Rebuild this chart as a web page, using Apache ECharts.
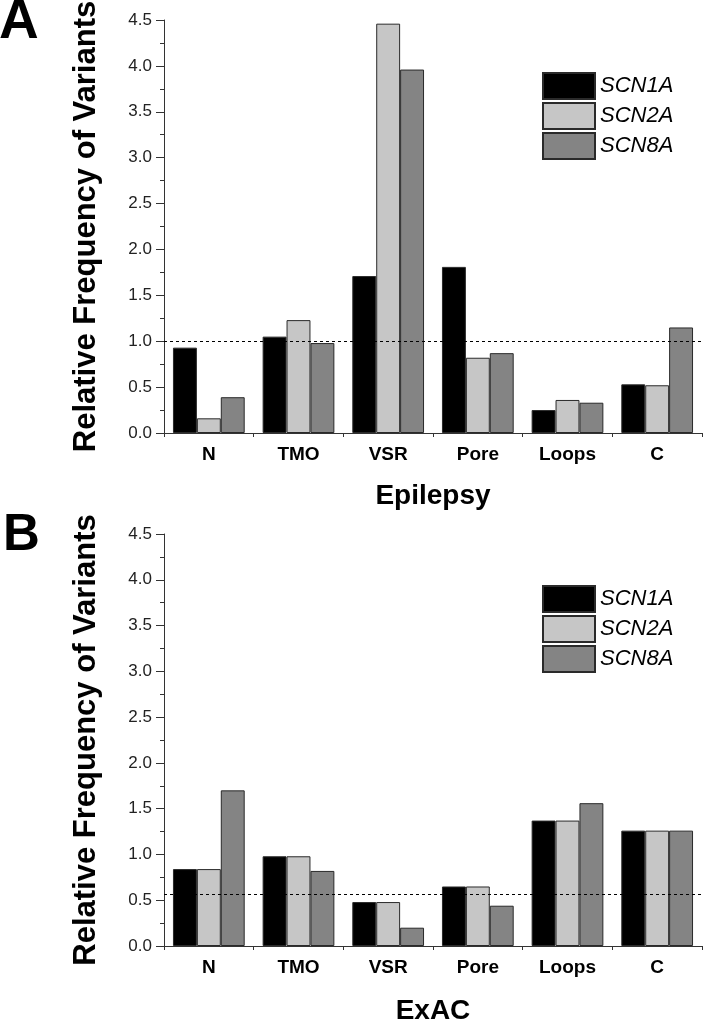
<!DOCTYPE html>
<html>
<head>
<meta charset="utf-8">
<script src="https://cdn.jsdelivr.net/npm/echarts@6/dist/echarts.min.js"></script>
<style>html,body{margin:0;padding:0;background:#fff}#c{width:704px;height:1020px}</style>
</head>
<body>
<div id="c"></div>
<script>
const categories = ['N', 'TMO', 'VSR', 'Pore', 'Loops', 'C'];
const seriesNames = ['SCN1A', 'SCN2A', 'SCN8A'];
const epilepsySCN1A = [0.93, 1.05, 1.71, 1.81, 0.25, 0.53];
const epilepsySCN2A = [0.16, 1.23, 4.46, 0.82, 0.36, 0.52];
const epilepsySCN8A = [0.39, 0.98, 3.96, 0.87, 0.33, 1.15];
const exacSCN1A = [0.84, 0.98, 0.48, 0.65, 1.37, 1.26];
const exacSCN2A = [0.84, 0.98, 0.48, 0.65, 1.37, 1.26];
const exacSCN8A = [1.70, 0.82, 0.20, 0.44, 1.56, 1.26];
const epilepsyReference = 1.0;
const exacReference = 0.56;
const yMin = 0, yMax = 4.5, yInterval = 0.5;
const panelTitles = ['Epilepsy', 'ExAC'];
const panelLetters = ['A', 'B'];
const yAxisTitle = 'Relative Frequency of Variants';

const colors = ['#000000', '#c6c6c6', '#848484'];
const FONT = 'Liberation Sans, Arial, sans-serif';
const chart = echarts.init(document.getElementById('c'), null, {renderer: 'canvas'});

const grids = [
  {left: 164, right: 2, top: 20, height: 413, outerBoundsMode: 'none', containLabel: false},
  {left: 164, right: 2, top: 534, height: 412, outerBoundsMode: 'none', containLabel: false}
];

const xAxes = [], yAxes = [], series = [], legends = [];
[0, 1].forEach(g => {
  xAxes.push({
    type: 'category', gridIndex: g, data: categories,
    name: panelTitles[g], nameLocation: 'middle', nameGap: g === 0 ? 49 : 51,
    nameTextStyle: {fontFamily: FONT, fontSize: 28, fontWeight: 'bold', color: '#000'},
    axisLine: {lineStyle: {color: '#333', width: 1}},
    axisTick: {alignWithLabel: true, length: 8, inside: false, lineStyle: {color: '#333'}},
    axisLabel: {fontFamily: FONT, fontSize: 19, fontWeight: 'bold', color: '#000', margin: 12},
    splitLine: {show: false}
  });
  xAxes.push({
    type: 'category', gridIndex: g, data: categories, position: 'bottom',
    axisLine: {show: false},
    axisTick: {show: true, length: 4, lineStyle: {color: '#333'}},
    axisLabel: {show: false}, splitLine: {show: false}
  });
  yAxes.push({
    type: 'value', gridIndex: g, min: yMin, max: yMax, interval: yInterval,
    name: yAxisTitle, nameLocation: 'middle', nameGap: 62, nameRotate: 90,
    nameTextStyle: {fontFamily: FONT, fontSize: 31, fontWeight: 'bold', color: '#000'},
    axisLine: {show: true, lineStyle: {color: '#333', width: 1}},
    axisTick: {show: true, length: 8, lineStyle: {color: '#333'}},
    minorTick: {show: true, splitNumber: 2, length: 4, lineStyle: {color: '#333'}},
    axisLabel: {fontFamily: FONT, fontSize: 17, color: '#222', margin: 12,
      formatter: v => v.toFixed(1)},
    splitLine: {show: false}
  });
  legends.push({
    orient: 'vertical', left: 537, top: g === 0 ? 67 : 580,
    itemWidth: 52, itemHeight: 26, itemGap: 2,
    icon: 'rect',
    data: seriesNames,
    selectedMode: false,
    textStyle: {fontFamily: FONT, fontSize: 22, fontStyle: 'italic', color: '#000', padding: [0, 0, 0, 0], lineHeight: 26}
  });
});

const dataSets = [
  [epilepsySCN1A, epilepsySCN2A, epilepsySCN8A],
  [exacSCN1A, exacSCN2A, exacSCN8A]
];
const refs = [epilepsyReference, exacReference];
[0, 1].forEach(g => {
  dataSets[g].forEach((d, i) => {
    const s = {
      name: seriesNames[i], type: 'bar', xAxisIndex: g * 2, yAxisIndex: g,
      data: d, barGap: '0%', barCategoryGap: '20%',
      itemStyle: {color: colors[i], borderColor: '#2a2a2a', borderWidth: 1},
      emphasis: {disabled: true}, animation: false
    };
    if (i === 0) {
      s.markLine = {
        silent: true, symbol: 'none', label: {show: false}, animation: false,
        lineStyle: {type: [3, 3], color: '#000', width: 1},
        data: [{yAxis: refs[g]}]
      };
    }
    series.push(s);
  });
});

chart.setOption({
  animation: false,
  backgroundColor: '#fff',
  grid: grids,
  xAxis: xAxes,
  yAxis: yAxes,
  legend: legends,
  series: series,
  graphic: [
    {type: 'text', left: -1, top: -5, style: {text: panelLetters[0], fontFamily: FONT, fontSize: 55, fontWeight: 'bold', fill: '#000'}},
    {type: 'text', left: 3, top: 510, style: {text: panelLetters[1], fontFamily: FONT, fontSize: 51, fontWeight: 'bold', fill: '#000'}}
  ]
});
</script>
</body>
</html>
